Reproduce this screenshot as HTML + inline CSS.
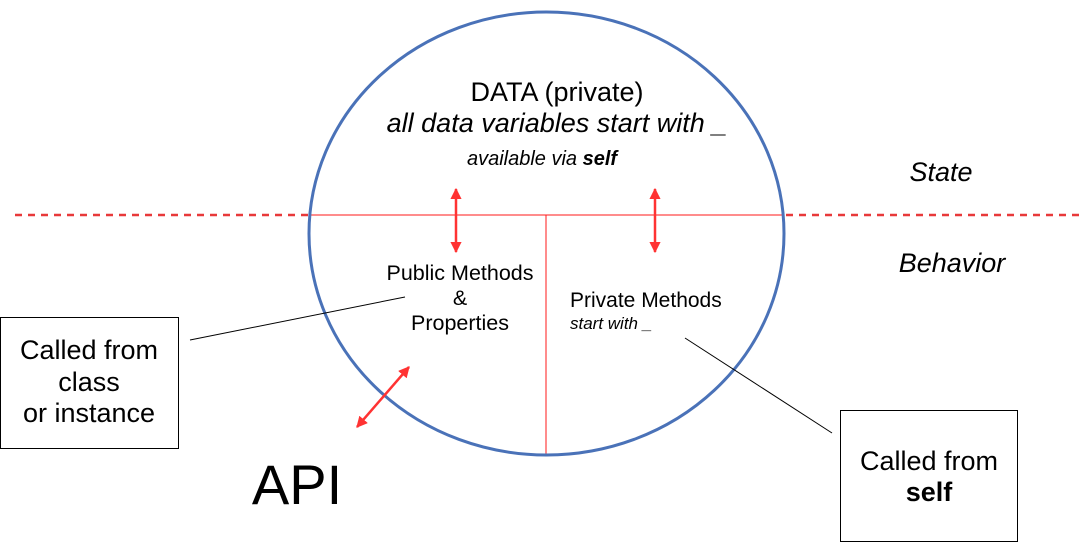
<!DOCTYPE html>
<html><head><meta charset="utf-8"><style>
html,body{margin:0;padding:0;background:#fff;}
body{width:1080px;height:545px;overflow:hidden;position:relative;font-family:"Liberation Sans",sans-serif;}
</style></head><body>
<svg width="1080" height="545" xmlns="http://www.w3.org/2000/svg" style="position:absolute;left:0;top:0">
<defs>
<marker id="ah" viewBox="0 0 10 10" refX="9" refY="5" markerWidth="4.5" markerHeight="4.5" orient="auto-start-reverse">
<path d="M0,0 L10,5 L0,10 z" fill="#ff3333"/></marker>
</defs>
<line x1="15" y1="215" x2="309" y2="215" stroke="#e8393a" stroke-width="2.5" stroke-dasharray="7,6"/>
<line x1="786" y1="215" x2="1080" y2="215" stroke="#e8393a" stroke-width="2.5" stroke-dasharray="7,6"/>
<line x1="309" y1="215" x2="784" y2="215" stroke="#ff1a1a" stroke-width="1"/>
<line x1="546" y1="215" x2="546" y2="455" stroke="#ff1a1a" stroke-width="1"/>
<ellipse cx="546.5" cy="233.5" rx="237.5" ry="221.5" fill="none" stroke="#4a72b8" stroke-width="3"/>
<line x1="456" y1="189" x2="456" y2="252" stroke="#ff3333" stroke-width="2.5" marker-start="url(#ah)" marker-end="url(#ah)"/>
<line x1="655" y1="189" x2="655" y2="252" stroke="#ff3333" stroke-width="2.5" marker-start="url(#ah)" marker-end="url(#ah)"/>
<line x1="409" y1="367" x2="357" y2="427" stroke="#ff3333" stroke-width="2.5" marker-start="url(#ah)" marker-end="url(#ah)"/>
<line x1="190" y1="340" x2="405" y2="297" stroke="#000" stroke-width="1"/>
<line x1="685" y1="338" x2="832" y2="433" stroke="#000" stroke-width="1"/>
<rect x="0.5" y="317.5" width="178" height="131" fill="#fff" stroke="#000" stroke-width="1"/>
<rect x="840.5" y="410.5" width="177" height="131" fill="#fff" stroke="#000" stroke-width="1"/>
<g font-family="Liberation Sans, sans-serif" fill="#000" text-anchor="middle">
<text x="557" y="101" font-size="27">DATA (private)</text>
<text x="557" y="132" font-size="27" font-style="italic">all data variables start with _</text>
<text x="542" y="165" font-size="20" font-style="italic">available via <tspan font-weight="bold">self</tspan></text>
<text x="941" y="181" font-size="27" font-style="italic">State</text>
<text x="952" y="272" font-size="27" font-style="italic">Behavior</text>
<text x="460" y="280" font-size="21.5">Public Methods</text>
<text x="460" y="305" font-size="21.5">&amp;</text>
<text x="460" y="330" font-size="21.5">Properties</text>
<text x="570" y="307" font-size="21" text-anchor="start">Private Methods</text>
<text x="570" y="329" font-size="17" font-style="italic" text-anchor="start">start with _</text>
<text x="89" y="359" font-size="27">Called from</text>
<text x="89" y="391" font-size="27">class</text>
<text x="89" y="422" font-size="27">or instance</text>
<text x="929" y="470" font-size="27">Called from</text>
<text x="929" y="501" font-size="27" font-weight="bold">self</text>
<text x="297" y="504" font-size="56">API</text>
</g>
</svg>
</body></html>
